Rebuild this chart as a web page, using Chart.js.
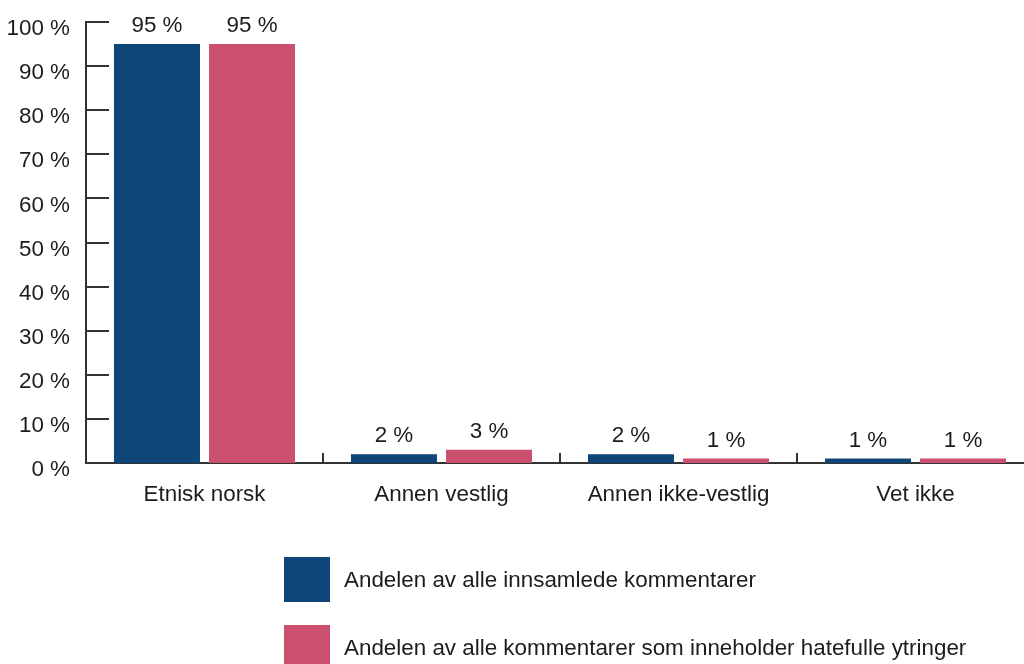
<!DOCTYPE html>
<html>
<head>
<meta charset="utf-8">
<script src="https://cdn.jsdelivr.net/npm/chart.js@4/dist/chart.umd.min.js"></script>
<style>
  body { margin: 0; overflow: hidden; background: #fff; font-family: "Liberation Sans", Arial, sans-serif; }
  #wrap { position: relative; width: 1024px; height: 664px; overflow: hidden; }
  #legend { position: absolute; left: 284px; top: 557px; }
  .item { display: flex; align-items: center; height: 45px; margin-bottom: 23px; color: #1e1b1c; font-size: 22.4px; white-space: nowrap; }
  .box { width: 46px; height: 45px; margin-right: 14px; }
</style>
</head>
<body>
<div id="wrap">
  <canvas id="chart" width="1040" height="664"></canvas>
  <div id="legend"></div>
</div>
<script>
const categories = ['Etnisk norsk', 'Annen vestlig', 'Annen ikke-vestlig', 'Vet ikke'];
const alleKommentarer = [95, 2, 2, 1];
const hatefulleKommentarer = [95, 3, 1, 1];
const seriesNames = [
  'Andelen av alle innsamlede kommentarer',
  'Andelen av alle kommentarer som inneholder hatefulle ytringer'
];
const colors = ['#0f4679', '#cb4f6f'];
const textColor = '#1e1b1c';
const axisColor = '#333333';
const fontFamily = '"Liberation Sans", Arial, sans-serif';

// value labels above the bars
const valueLabels = {
  id: 'valueLabels',
  afterDatasetsDraw(chart) {
    const ctx = chart.ctx;
    ctx.save();
    ctx.font = '22.4px ' + fontFamily;
    ctx.fillStyle = textColor;
    ctx.textAlign = 'center';
    ctx.textBaseline = 'alphabetic';
    chart.data.datasets.forEach((ds, i) => {
      chart.getDatasetMeta(i).data.forEach((bar, j) => {
        ctx.fillText(ds.data[j] + ' %', bar.x, bar.y - 12);
      });
    });
    ctx.restore();
  }
};

// tick marks pointing into the plot
const innerTicks = {
  id: 'innerTicks',
  afterDraw(chart) {
    const ctx = chart.ctx;
    const area = chart.chartArea;
    const y = chart.scales.y;
    const x = chart.scales.x;
    ctx.save();
    ctx.strokeStyle = axisColor;
    ctx.lineWidth = 2;
    ctx.beginPath();
    y.ticks.forEach(t => {
      const py = Math.round(y.getPixelForValue(t.value));
      ctx.moveTo(area.left, py);
      ctx.lineTo(area.left + 23, py);
    });
    for (let i = 1; i <= categories.length; i++) {
      const px = Math.round((x.getPixelForValue(i - 1) + x.getPixelForValue(i)) / 2);
      ctx.moveTo(px, area.bottom);
      ctx.lineTo(px, area.bottom - 10);
    }
    ctx.stroke();
    ctx.restore();
  }
};

const chart = new Chart(document.getElementById('chart').getContext('2d'), {
  type: 'bar',
  data: {
    labels: categories,
    datasets: [
      { label: seriesNames[0], data: alleKommentarer, backgroundColor: colors[0] },
      { label: seriesNames[1], data: hatefulleKommentarer, backgroundColor: colors[1] }
    ]
  },
  options: {
    responsive: false,
    animation: false,
    layout: { padding: { top: 22, right: 6, left: 0, bottom: 0 } },
    datasets: { bar: { categoryPercentage: 0.802, barPercentage: 0.905 } },
    plugins: { legend: { display: false }, tooltip: { enabled: false } },
    scales: {
      x: {
        grid: { display: false, drawTicks: false },
        border: { display: true, color: axisColor, width: 2 },
        ticks: { color: textColor, padding: 18, font: { size: 22.4, family: fontFamily } },
        afterFit: s => { s.height = 201; s.paddingLeft = 0; s.paddingRight = 0; }
      },
      y: {
        min: 0,
        max: 100,
        grid: { display: false, drawTicks: false },
        border: { display: true, color: axisColor, width: 2 },
        ticks: {
          stepSize: 10,
          padding: 16,
          labelOffset: 7,
          color: textColor,
          font: { size: 22.4, family: fontFamily },
          callback: v => v + ' %'
        },
        afterFit: s => { s.width = 86; s.paddingTop = 0; s.paddingBottom = 0; }
      }
    }
  },
  plugins: [valueLabels, innerTicks]
});

// legend, one entry per row
const legend = document.getElementById('legend');
chart.data.datasets.forEach(ds => {
  const item = document.createElement('div');
  item.className = 'item';
  const box = document.createElement('span');
  box.className = 'box';
  box.style.background = ds.backgroundColor;
  const txt = document.createElement('span');
  txt.textContent = ds.label;
  item.appendChild(box);
  item.appendChild(txt);
  legend.appendChild(item);
});
</script>
</body>
</html>
